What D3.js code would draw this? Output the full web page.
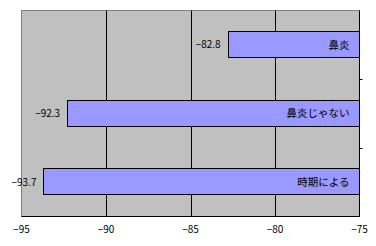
<html>
<script src='https://d3js.org/d3.v7.min.js'></script>
<style>
body {margin:0; background:#fff;}
text {font-family: "Noto Sans CJK JP", sans-serif; font-size: 10px; fill: #000;}
</style>
<body>
<svg width=376 height=246></svg>
<script>
var categories = ["鼻炎", "鼻炎じゃない", "時期による"];
var values = [-82.8, -92.3, -93.7];
var tickValues = [-95, -90, -85, -80, -75];

var plotLeft = 21.5, plotRight = 359.5, plotTop = 10.5, plotBottom = 216.5;
var svg = d3.select("svg");

var x = d3.scaleLinear().domain([-95, -75]).range([plotLeft, plotRight]);
var y = d3.scaleBand().domain(categories).range([plotTop, plotBottom]).paddingInner(0.6).paddingOuter(0.3);

// plot area
svg.append("rect").attr("x", plotLeft).attr("y", plotTop).attr("width", plotRight - plotLeft).attr("height", plotBottom - plotTop)
	.attr("fill", "#c0c0c0").attr("stroke", "#808080");

// gridlines
svg.append("g").selectAll("line").data(tickValues.slice(1, -1)).enter().append("line")
	.attr("x1", d => Math.round(x(d)) + 0.5).attr("x2", d => Math.round(x(d)) + 0.5)
	.attr("y1", plotTop).attr("y2", plotBottom).attr("stroke", "#000");

// bars
svg.append("g").selectAll("rect").data(values).enter().append("rect")
	.attr("x", d => Math.round(x(d)) + 0.5)
	.attr("y", (d, i) => Math.round(y(categories[i])) + 0.5)
	.attr("width", d => x(-75) - Math.round(x(d)) - 0.5)
	.attr("height", Math.round(y.bandwidth()) - 1)
	.attr("fill", "#9999ff").attr("stroke", "#000");

// value labels
svg.append("g").selectAll("text").data(values).enter().append("text")
	.attr("x", d => x(d) - 7)
	.attr("y", (d, i) => y(categories[i]) + y.bandwidth() / 2)
	.attr("dy", "0.35em").attr("text-anchor", "end")
	.text(d => d3.format(".1f")(d));

// category labels inside bars
svg.append("g").selectAll("text").data(categories).enter().append("text")
	.attr("x", x(-75) - 10)
	.attr("y", d => y(d) + y.bandwidth() / 2)
	.attr("dy", "0.35em").attr("text-anchor", "end")
	.style("font-size", "10.5px")
	.text(d => d);

// bottom axis
svg.append("line").attr("x1", plotLeft).attr("x2", plotRight).attr("y1", plotBottom).attr("y2", plotBottom).attr("stroke", "#000");
svg.append("g").selectAll("text").data(tickValues).enter().append("text")
	.attr("x", d => x(d)).attr("y", 233).attr("text-anchor", "middle")
	.text(d => d3.format("d")(d));

// right axis with ticks at band boundaries
svg.append("line").attr("x1", plotRight).attr("x2", plotRight).attr("y1", plotTop).attr("y2", plotBottom).attr("stroke", "#000");
var step = y.step();
svg.append("g").selectAll("line").data([1, 2]).enter().append("line")
	.attr("x1", plotRight).attr("x2", plotRight + 3)
	.attr("y1", d => Math.round(plotTop + d * step) + 0.5).attr("y2", d => Math.round(plotTop + d * step) + 0.5)
	.attr("stroke", "#000");
</script>
</body>
</html>
